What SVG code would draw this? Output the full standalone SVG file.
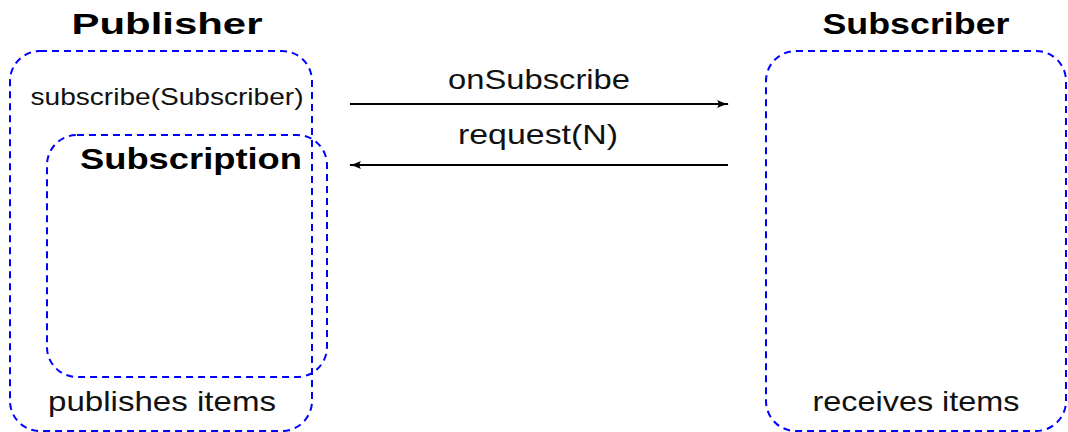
<svg xmlns="http://www.w3.org/2000/svg" width="1068" height="432" viewBox="0 0 1068 432">
  <style>
    .box { fill: none; stroke: #0000ff; stroke-width: 2; stroke-dasharray: 7 5; }
    .title { font-family: "Liberation Sans", Arial, sans-serif; font-weight: bold; font-size: 30px; fill: #000; text-anchor: middle; }
    .label { font-family: "Liberation Sans", Arial, sans-serif; font-size: 28px; fill: #111; text-anchor: middle; }
    .small { font-family: "Liberation Sans", Arial, sans-serif; font-size: 24px; fill: #111; text-anchor: middle; }
    .conn { stroke: #000; stroke-width: 2; fill: none; }
  </style>
  <defs>
    <marker id="arrow" viewBox="0 0 12 10" refX="11" refY="5" markerWidth="12" markerHeight="10" markerUnits="userSpaceOnUse" orient="auto">
      <path d="M0,1 Q6,4 12,5 Q6,6 0,9 Q3,5 0,1 Z" fill="#000"/>
    </marker>
  </defs>

  <rect width="1068" height="432" fill="#fff"/>

  <g id="publisher">
    <rect class="box" x="10" y="51" width="302" height="380" rx="30" ry="30"/>
    <text class="title" x="167" y="34" textLength="191" lengthAdjust="spacingAndGlyphs">Publisher</text>
    <text class="small" x="167" y="105" textLength="273" lengthAdjust="spacingAndGlyphs">subscribe(Subscriber)</text>
    <text class="label" x="162" y="411" textLength="228" lengthAdjust="spacingAndGlyphs">publishes items</text>
  </g>

  <g id="subscription">
    <rect class="box" x="47" y="135" width="280" height="242" rx="30" ry="30"/>
    <text class="title" x="191" y="169" textLength="222" lengthAdjust="spacingAndGlyphs">Subscription</text>
  </g>

  <g id="subscriber">
    <rect class="box" x="766" y="51" width="300" height="380" rx="30" ry="30"/>
    <text class="title" x="916" y="34" textLength="187" lengthAdjust="spacingAndGlyphs">Subscriber</text>
    <text class="label" x="916" y="411" textLength="207" lengthAdjust="spacingAndGlyphs">receives items</text>
  </g>

  <g id="connectors">
    <line class="conn" x1="350" y1="104" x2="728" y2="104" marker-end="url(#arrow)"/>
    <text class="label" x="539" y="89" textLength="182" lengthAdjust="spacingAndGlyphs">onSubscribe</text>
    <line class="conn" x1="728" y1="165" x2="350" y2="165" marker-end="url(#arrow)"/>
    <text class="label" x="538" y="144" textLength="160" lengthAdjust="spacingAndGlyphs">request(N)</text>
  </g>
</svg>
